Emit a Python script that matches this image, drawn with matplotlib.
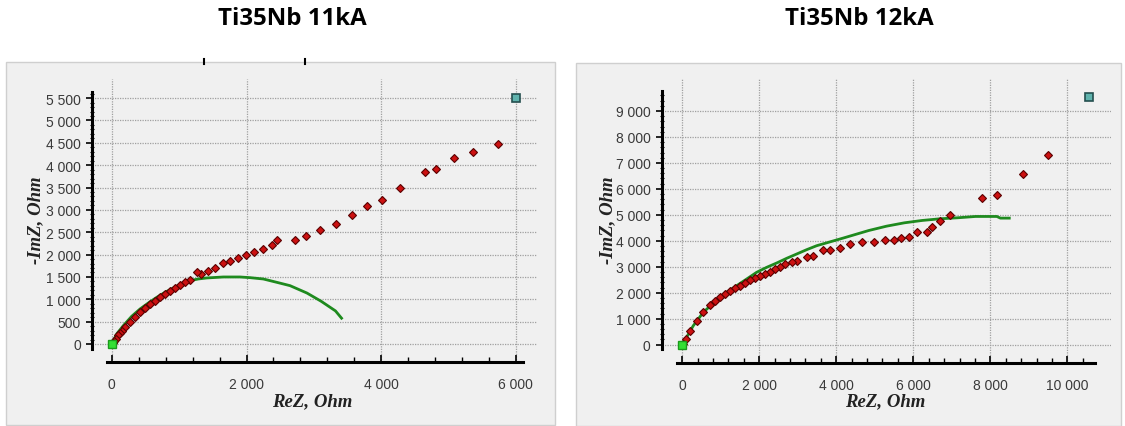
import matplotlib
matplotlib.use("Agg")
import matplotlib.pyplot as plt
from matplotlib.ticker import MultipleLocator, FixedLocator, FuncFormatter
from matplotlib.patches import Rectangle
from matplotlib.lines import Line2D

# ---------------- data ----------------
titles = ["Ti35Nb 11kA", "Ti35Nb 12kA"]
xlabel = "ReZ, Ohm"
ylabel = "-ImZ, Ohm"

# 11kA measured points
re_11 = [5730, 5360, 5079, 4814, 4645, 4274, 4009, 3787, 3564, 3336, 3093, 2886, 2722,
         2448, 2374, 2245, 2116, 1988, 1869, 1755, 1651, 1537, 1424, 1324, 1261, 1161,
         1087, 1013, 938, 864, 790, 716, 641, 567, 493, 419, 344, 270, 196, 150, 122,
         90, 62, 35, 15, 5]
im_11 = [4478, 4286, 4153, 3923, 3842, 3479, 3220, 3079, 2894, 2694, 2554, 2406, 2324,
         2319, 2222, 2118, 2066, 1991, 1917, 1864, 1805, 1700, 1633, 1559, 1603, 1430,
         1380, 1320, 1255, 1190, 1120, 1045, 965, 885, 800, 710, 610, 500, 380, 300, 250,
         190, 120, 60, 20, 5]
# 11kA fitted curve
fit_re_11 = [0, 72, 171, 295, 419, 542, 667, 790, 913, 1038, 1161, 1284, 1409, 1656, 1903,
             2052, 2250, 2448, 2646, 2897, 3109, 3321, 3411]
fit_im_11 = [0, 224, 410, 619, 783, 917, 1044, 1156, 1253, 1342, 1417, 1454, 1477, 1499,
             1499, 1484, 1454, 1380, 1305, 1140, 955, 740, 577]

# 12kA measured points
re_12 = [9491, 8844, 8179, 7791, 6959, 6700, 6479, 6349, 6090, 5887, 5693, 5490, 5268,
         4981, 4676, 4353, 4085, 3845, 3660, 3392, 3231, 2971, 2841, 2668, 2538, 2408,
         2278, 2148, 2018, 1888, 1758, 1629, 1499, 1369, 1239, 1109, 979, 849, 719, 545,
         374, 200, 96, 26]
im_12 = [7298, 6576, 5751, 5635, 4977, 4758, 4513, 4358, 4358, 4165, 4113, 4049, 4023,
         3971, 3971, 3881, 3726, 3636, 3636, 3430, 3365, 3236, 3196, 3107, 2979, 2915,
         2812, 2722, 2658, 2568, 2491, 2376, 2273, 2170, 2079, 1952, 1825, 1694, 1540, 1247,
         924, 540, 219, 27]
# 12kA fitted curve
fit_re_12 = [0, 286, 545, 849, 1153, 1413, 1673, 1932, 2192, 2452, 2712, 2971, 3231, 3491,
             4196, 4843, 5305, 5767, 6229, 6691, 7153, 7615, 8170, 8262, 8493]
fit_im_12 = [0, 732, 1247, 1656, 2017, 2273, 2530, 2788, 2979, 3146, 3327, 3492, 3659, 3812,
             4113, 4397, 4564, 4693, 4784, 4848, 4887, 4938, 4938, 4874, 4874]

# start / end markers
start_pt = (0, 0)
end_11 = (6000, 5500)
end_12 = (10560, 9550)

x_major = [2000, 2000]
y_major = [500, 1000]
x_minor = [400, 400]
y_minor = [100, 200]

# ---------------- figure ----------------
W, H = 1125, 427
fig = plt.figure(figsize=(W / 100, H / 100), dpi=100)
fig.patch.set_facecolor("white")

def fx(px):
    return px / W

def fy(py):
    return 1 - py / H

# panel backgrounds
for (x0, y0, x1, y1) in [(6, 63, 555, 426), (576, 64, 1121, 427)]:
    fig.add_artist(Rectangle((fx(x0), fy(y1)), fx(x1) - fx(x0), fy(y0) - fy(y1),
                             transform=fig.transFigure, facecolor="#f0f0f0",
                             edgecolor="#cfcfcf", linewidth=1, zorder=-10))

# tiny artefact ticks at top of left panel
for xp in (203.5, 305):
    fig.add_artist(Line2D([fx(xp), fx(xp)], [fy(60), fy(65)], transform=fig.transFigure,
                          color="black", linewidth=1.5))

fmt = FuncFormatter(lambda v, p: f"{int(round(v)):,}".replace(",", " "))
label_font = dict(family="Liberation Serif", size=13.5, weight="bold", style="italic",
                  color="#222222")

configs = [
    dict(rect=(92, 80, 537, 363), xlim=(-294, 6313), ylim=(-403, 5928),
         ybounds=(-112, 5638), xbounds=(-76, 6100),
         re=re_11, im=im_11, fre=fit_re_11, fim=fit_im_11, end=end_11,
         title_x=292.5, xl=(312, 402), yl=(36, 220), xmax=6000, ymax=5500),
    dict(rect=(661.7, 79, 1111, 364), xlim=(-535, 11135), ylim=(-705, 10270),
         ybounds=(-170, 9769), xbounds=(-145, 10720),
         re=re_12, im=im_12, fre=fit_re_12, fim=fit_im_12, end=end_12,
         title_x=859, xl=(885, 402), yl=(608, 220), xmax=10000, ymax=9000),
]

for i, c in enumerate(configs):
    x0, y0, x1, y1 = c["rect"]
    ax = fig.add_axes([fx(x0), fy(y1), fx(x1) - fx(x0), fy(y0) - fy(y1)])
    ax.set_facecolor("none")
    ax.set_xlim(*c["xlim"])
    ax.set_ylim(*c["ylim"])

    ax.set_xticks(list(range(0, c["xmax"] + 1, x_major[i])))
    ax.set_yticks(list(range(0, c["ymax"] + 1, y_major[i])))
    ax.xaxis.set_minor_locator(FixedLocator(
        [t for t in range(0, int(c["xbounds"][1]) + 1, x_minor[i])]))
    ax.yaxis.set_minor_locator(FixedLocator(
        [t for t in range(0, int(c["ybounds"][1]) + 1, y_minor[i])]))
    ax.xaxis.set_major_formatter(fmt)
    ax.yaxis.set_major_formatter(fmt)

    ax.grid(True, which="major", color="#a0a0a0", linestyle=(0, (1, 1)), linewidth=0.9)
    ax.set_axisbelow(True)

    for s in ("top", "right"):
        ax.spines[s].set_visible(False)
    ax.spines["left"].set_linewidth(2.2)
    ax.spines["bottom"].set_linewidth(2.2)
    ax.spines["left"].set_bounds(*c["ybounds"])
    ax.spines["bottom"].set_bounds(*c["xbounds"])

    ax.tick_params(axis="x", which="major", direction="in", length=5, width=1.2,
                   pad=11, labelsize=10, labelcolor="#3a3a3a")
    ax.tick_params(axis="x", which="minor", direction="in", length=3.5, width=1.0)
    ax.tick_params(axis="y", which="major", direction="out", length=4, width=1.2,
                   pad=4, labelsize=10, labelcolor="#3a3a3a")
    ax.tick_params(axis="y", which="minor", direction="inout", length=2.5, width=0.8)
    for lab in ax.get_xticklabels() + ax.get_yticklabels():
        lab.set_fontfamily("Liberation Sans")

    ax.plot(c["fre"], c["fim"], color="#1e8a1e", linewidth=2.0, zorder=3)
    ax.plot(c["re"], c["im"], linestyle="none", marker="D", markersize=4,
            markerfacecolor="#cc1111", markeredgecolor="#5a0000", markeredgewidth=0.8,
            zorder=4)
    ax.plot([start_pt[0]], [start_pt[1]], marker="s", markersize=6,
            markerfacecolor="#33e033", markeredgecolor="#1a9a1a", markeredgewidth=1,
            linestyle="none", zorder=5, clip_on=False)
    ax.plot([c["end"][0]], [c["end"][1]], marker="s", markersize=6,
            markerfacecolor="#5fb3ad", markeredgecolor="#244f4f", markeredgewidth=1.2,
            linestyle="none", zorder=5, clip_on=False)

    fig.text(fx(c["title_x"]), fy(19), titles[i], ha="center", va="center",
             family="Open Sans", weight="bold", size=17.3, color="black")
    fig.text(fx(c["xl"][0]), fy(c["xl"][1]), xlabel, ha="center", va="center", **label_font)
    fig.text(fx(c["yl"][0]), fy(c["yl"][1]), ylabel, ha="center", va="center",
             rotation=90, **label_font)

fig.savefig("out.png", dpi=100)
